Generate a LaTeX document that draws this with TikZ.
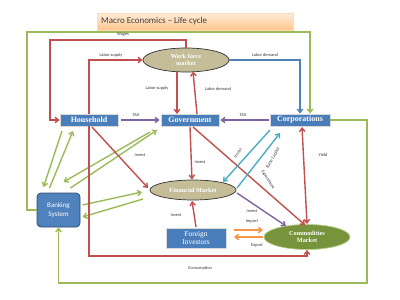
\documentclass[tikz,border=0pt]{standalone}
\usepackage{fontspec}
\setmainfont{Liberation Serif}
\newfontfamily\carlitofont[Ligatures=TeX]{Carlito}
\usetikzlibrary{shapes.geometric,arrows.meta,calc}
\definecolor{cred}{HTML}{C0504D}
\definecolor{cgreen}{HTML}{9BBB59}
\definecolor{cblue}{HTML}{4F81BD}
\definecolor{cpurple}{HTML}{8064A2}
\definecolor{ccyan}{HTML}{4BACC6}
\definecolor{corange}{HTML}{F79646}
\definecolor{ckhaki}{HTML}{C4BD97}
\definecolor{colive}{HTML}{77933C}
\definecolor{boxblue}{HTML}{4A7EBB}
\begin{document}
\begin{tikzpicture}[x=1pt,y=-1pt,
  conn/.style={line width=1.4pt,-{Straight Barb[length=3.5pt,width=5.5pt]}},
  dconn/.style={line width=1.4pt,{Straight Barb[length=3.5pt,width=5.5pt]}-{Straight Barb[length=3.5pt,width=5.5pt]}},
  bluebox/.style={rectangle,fill=boxblue,draw=black!15,line width=0.8pt,inner sep=0pt,text=white,font=\bfseries\fontsize{8}{9}\selectfont},
  khakiell/.style={ellipse,fill=ckhaki,draw=black!80,line width=0.7pt,inner sep=0pt,text=white,font=\bfseries\fontsize{6.3}{7.2}\selectfont,align=center},
  lbl/.style={font=\carlitofont\fontsize{4.4}{5}\selectfont,text=black!80,inner sep=0pt}]
\useasboundingbox (0,0) rectangle (400,300);
% title
\node[rectangle,top color=orange!15,bottom color=orange!45,draw=orange!30,line width=0.6pt,
  minimum width=196pt,minimum height=17pt,inner sep=0pt] (title) at (195,21.5) {};
\node[anchor=west,font=\carlitofont\fontsize{9}{10}\selectfont,text=black!75,inner sep=0pt] (titletext) at (101,21.5) {Macro Economics – Life cycle};
% nodes
\node[bluebox,minimum width=58pt,minimum height=12pt] (hh) at (89,120) {Household};
\node[bluebox,minimum width=58pt,minimum height=12pt] (gov) at (190,120) {Government};
\node[bluebox,minimum width=60pt,minimum height=12pt] (corp) at (300,120) {Corporations};
\node[bluebox,minimum width=60pt,minimum height=20pt,align=center,font=\fontsize{7.5}{8.5}\selectfont] (fi) at (196,238) {Foreign\\Investors};
\node[rectangle,rounded corners=4pt,fill=cblue,draw=cblue!60!black,line width=0.8pt,minimum width=43pt,minimum height=34pt,inner sep=0pt,text=white,align=center,font=\carlitofont\fontsize{7}{8.5}\selectfont] (bank) at (58.5,210) {Banking\\System};
\node[khakiell,minimum width=86pt,minimum height=24pt] (wf) at (186,60) {Work force\\market};
\node[khakiell,minimum width=86pt,minimum height=20pt] (fin) at (193,190) {Financial Market};
\node[ellipse,fill=colive,draw=cgreen!70!white,line width=0.7pt,minimum width=86pt,minimum height=25pt,inner sep=0pt,text=white,align=center,font=\bfseries\fontsize{6.3}{7.2}\selectfont] (comm) at (307,237) {Commodities\\Market};
% outer green from banking to corporations
\coordinate (gtl) at (27,32);
\draw[conn,cgreen] (bank.west) -| (gtl) -| ([xshift=10pt]corp.north);
% wages
\coordinate (wtl) at (50,40);
\draw[conn,cred] (wf.north) |- (wtl) |- (hh.west);
\node[lbl] (lwages) at (123,34.5) {Wages};
% labor supply hh -> wf
\draw[conn,cred] (hh.north) |- (wf.west);
\node[lbl] (lls1) at (111,55) {Labor supply};
% labor demand wf -> corp
\draw[conn,cblue] (wf.east) -| (corp.north);
\node[lbl] (lld1) at (265,55) {Labor demand};
% wf <-> gov
\draw[conn,cred] ($(wf)+(-9,12)$) -- ($(gov)+(-13,-6)$);
\draw[conn,cred] ($(gov)+(7,-6)$) -- ($(wf)+(7,11.5)$);
\node[lbl] (lls2) at (157,88.5) {Labor supply};
\node[lbl] (lld2) at (218,88.5) {Labor demand};
% tax
\draw[conn,cpurple] ([xshift=3pt]hh.east) -- ([xshift=-1pt]gov.west);
\draw[conn,cpurple] ([xshift=-1pt]corp.west) -- ([xshift=1pt]gov.east);
\node[lbl] (ltax1) at (136,115) {TAX};
\node[lbl] (ltax2) at (243,115) {TAX};
% household <-> banking
\draw[conn,cgreen] ($(hh)+(-27,11)$) -- ($(bank)+(-15,-23)$);
\draw[conn,cgreen] ($(bank)+(-9,-22)$) -- ($(hh)+(-16,11)$);
% government <-> banking
\draw[conn,cgreen] ($(gov)+(-40,12)$) -- ($(bank)+(5,-28)$);
\draw[conn,cgreen] ($(bank)+(12,-22)$) -- ($(gov)+(-33,10)$);
% financial <-> banking
\draw[conn,cgreen] ($(bank)+(24,-5)$) -- ($(fin)+(-51,2)$);
\draw[conn,cgreen] ($(fin)+(-50,9)$) -- ($(bank)+(24,7)$);
% invests
\draw[conn,cred] ($(hh)+(3,7)$) -- ($(fin)+(-45,-2)$);
\node[lbl] (linv1) at (140,155) {Invest};
\draw[conn,cred] ($(gov)+(0,7)$) -- ($(fin)+(-1,-10.5)$);
\node[lbl] (linv2) at (200,162) {Invest};
\draw[conn,cred] ($(gov)+(3,7)$) -- ($(comm)+(-2,-12)$);
\node[lbl,rotate=-58] (lexp) at (268,180) {Expenditure};
\draw[conn,ccyan] ($(corp)+(-30,10)$) -- ($(fin)+(30,-8)$);
\node[lbl,rotate=55] (linv3) at (238,153) {Invest};
\draw[conn,ccyan] ($(fin)+(44,-2)$) -- ($(corp)+(-20,13)$);
\node[lbl,rotate=60] (lrc) at (273,158) {Raise Capital};
\draw[dconn,cred] ($(corp)+(2,7)$) -- ($(comm)+(0,-13)$);
\node[lbl] (lyield) at (323,155) {Yield};
\draw[conn,cpurple] ($(fin)+(44,3)$) -- ($(comm)+(-21,-11)$);
\node[lbl] (linv4) at (252,211) {Invest};
\draw[conn,cred] ($(fi)+(0,-11)$) -- ($(fin)+(-1,11)$);
\node[lbl] (linv5) at (176,215) {Invest};
% import/export
\draw[conn,corange] ($(fi)+(38,-8)$) -- ($(comm)+(-44,-7)$);
\node[lbl] (limp) at (252,221) {Import};
\draw[conn,corange] ($(comm)+(-44,0)$) -- ($(fi)+(38,-1)$);
\node[lbl] (lexport) at (257,245) {Export};
% consumption
\coordinate (cb) at (200,256);
\draw[conn,cred] (hh.south) |- (cb) -| (comm.south);
\node[lbl] (lcons) at (200,268) {Consumption};
% corporations -> banking
\coordinate (gbr) at (367,283);
\draw[conn,cgreen] (corp.east) -| (gbr) -| (bank.south);
\end{tikzpicture}
\end{document}
